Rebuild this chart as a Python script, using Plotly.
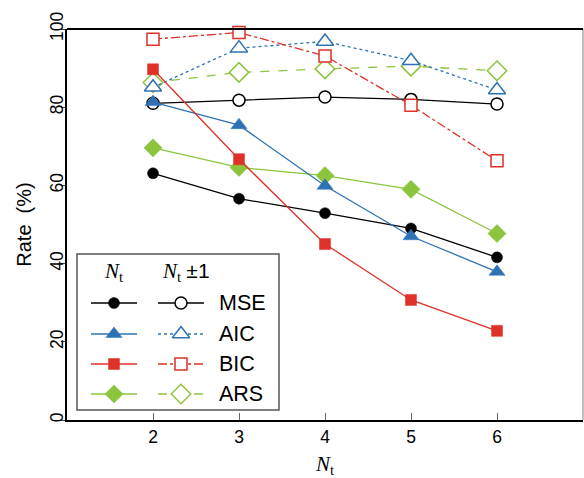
import plotly.graph_objects as go

nt = [2, 3, 4, 5, 6]
x_ticks = [2, 3, 4, 5, 6]
y_ticks = [0, 20, 40, 60, 80, 100]

mse_nt = [63.1, 56.6, 52.9, 49.0, 41.6]
mse_pm1 = [81.0, 81.8, 82.6, 82.0, 80.8]
aic_nt = [81.3, 75.4, 59.9, 47.0, 37.9]
aic_pm1 = [85.1, 95.1, 96.8, 91.9, 84.4]
bic_nt = [89.7, 66.7, 45.0, 30.7, 22.8]
bic_pm1 = [97.4, 99.1, 93.1, 80.5, 66.3]
ars_nt = [69.6, 64.6, 62.5, 59.0, 47.7]
ars_pm1 = [86.3, 88.9, 89.8, 90.5, 89.3]

methods = ["MSE", "AIC", "BIC", "ARS"]
colors = {"MSE": "#000000", "AIC": "#2F72B4", "BIC": "#DE3128", "ARS": "#8DC43E"}
symbols = {"MSE": "circle", "AIC": "triangle-up", "BIC": "square", "ARS": "diamond"}
sizes = {"MSE": 11, "AIC": 14, "BIC": 11, "ARS": 14}
dashes = {"MSE": "solid", "AIC": "dot", "BIC": "dashdot", "ARS": "dash"}
filled = {"MSE": mse_nt, "AIC": aic_nt, "BIC": bic_nt, "ARS": ars_nt}
opened = {"MSE": mse_pm1, "AIC": aic_pm1, "BIC": bic_pm1, "ARS": ars_pm1}


def open_marker(m):
    c = colors[m]
    return dict(symbol=symbols[m], size=sizes[m] + 1, color="white",
                line=dict(color=c, width=1.5))


def filled_marker(m):
    c = colors[m]
    return dict(symbol=symbols[m], size=sizes[m], color=c, line=dict(color=c, width=0.5))


fig = go.Figure()

order = ["ARS", "MSE", "AIC", "BIC"]
for m in order:
    c = colors[m]
    fig.add_trace(go.Scatter(
        x=nt, y=opened[m], mode="lines+markers",
        line=dict(color=c, width=1.3, dash=dashes[m]),
        marker=open_marker(m), showlegend=False, cliponaxis=False))
for m in order:
    c = colors[m]
    fig.add_trace(go.Scatter(
        x=nt, y=filled[m], mode="lines+markers",
        line=dict(color=c, width=1.3),
        marker=filled_marker(m), showlegend=False, cliponaxis=False))

# custom two-column legend drawn on an overlay axis in pixel units
row_y = [303, 334, 364, 394]
for m, ry in zip(methods, row_y):
    c = colors[m]
    fig.add_trace(go.Scatter(
        x=[91, 137], y=[ry, ry], mode="lines", xaxis="x2", yaxis="y2",
        line=dict(color=c, width=1.3), showlegend=False, hoverinfo="skip"))
    fig.add_trace(go.Scatter(
        x=[114], y=[ry], mode="markers", xaxis="x2", yaxis="y2",
        marker=filled_marker(m), showlegend=False, hoverinfo="skip"))
    fig.add_trace(go.Scatter(
        x=[158, 204], y=[ry, ry], mode="lines", xaxis="x2", yaxis="y2",
        line=dict(color=c, width=1.3, dash=dashes[m]), showlegend=False, hoverinfo="skip"))
    fig.add_trace(go.Scatter(
        x=[181], y=[ry], mode="markers", xaxis="x2", yaxis="y2",
        marker=open_marker(m), showlegend=False, hoverinfo="skip"))
    fig.add_annotation(x=217, y=ry, xref="x2", yref="y2", text=m, showarrow=False,
                       xanchor="left", yanchor="middle",
                       font=dict(family="Liberation Sans", size=21.5, color="black"))

fig.add_annotation(x=113, y=272, xref="x2", yref="y2", text="<i>N</i><sub>t</sub>",
                   showarrow=False, xanchor="center", yanchor="middle",
                   font=dict(family="Liberation Serif", size=21, color="black"))
fig.add_annotation(x=160, y=272, xref="x2", yref="y2",
                   text="<i>N</i><sub>t</sub> <span style='font-family:Liberation Sans'>±1</span>",
                   showarrow=False, xanchor="left", yanchor="middle",
                   font=dict(family="Liberation Serif", size=21, color="black"))

fig.add_shape(type="rect", xref="x2", yref="y2", x0=77, x1=279, y0=254, y1=410,
              line=dict(color="#555555", width=1.5), fillcolor="white", layer="below")
# right frame edge (grey)
fig.add_shape(type="line", xref="paper", yref="paper", x0=1, x1=1, y0=0, y1=1,
              line=dict(color="#aaaaaa", width=1.5))

fig.update_layout(
    width=584, height=478,
    margin=dict(l=67, r=1, t=29, b=58),
    plot_bgcolor="white", paper_bgcolor="white",
    font=dict(family="Liberation Sans", size=17, color="black"),
    xaxis=dict(range=[1, 7], tickvals=x_ticks, ticks="inside", ticklen=7, tickwidth=1.2,
               tickcolor="#666666", showgrid=False, zeroline=False,
               showline=True, linecolor="black", linewidth=2,
               tickfont=dict(size=17.5),
               title=dict(text="<i>N</i><sub>t</sub>", standoff=14,
                          font=dict(family="Liberation Serif", size=21))),
    yaxis=dict(range=[0, 100], tickvals=y_ticks, ticks="outside", ticklen=4, tickwidth=1,
               showgrid=False, zeroline=False, tickangle=-90, ticklabelstandoff=-9,
               showline=True, linecolor="black", linewidth=1.5,
               tickfont=dict(size=17.5),
               title=dict(text="Rate  (%)", standoff=10, font=dict(size=20))),
    xaxis2=dict(range=[67, 583], overlaying="x", visible=False, domain=[0, 1]),
    yaxis2=dict(range=[420, 29], overlaying="y", visible=False, domain=[0, 1]),
)
# top frame line
fig.add_shape(type="line", xref="paper", yref="paper", x0=0, x1=1, y0=1, y1=1,
              line=dict(color="black", width=2))

fig.write_html("out.html")
